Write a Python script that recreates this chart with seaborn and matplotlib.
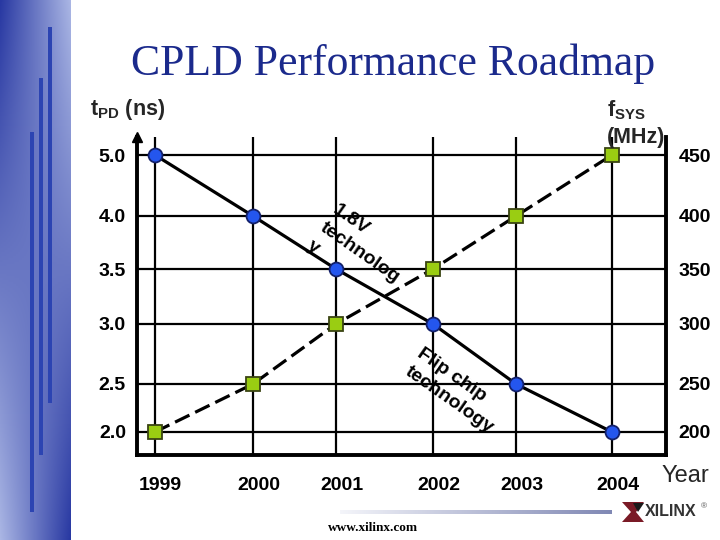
import numpy as np
import pandas as pd
import matplotlib
matplotlib.use("Agg")
import matplotlib.pyplot as plt
import seaborn as sns
from matplotlib.patches import Rectangle, Polygon
from matplotlib.transforms import ScaledTranslation

# ---------------- data ----------------
years = [1999, 2000, 2001, 2002, 2003, 2004]
year_labels = ["1999", "2000", "2001", "2002", "2003", "2004"]
tpd_ns = [5.0, 4.0, 3.5, 3.0, 2.5, 2.0]
fsys_mhz = [200, 250, 300, 350, 400, 450]
tpd_ticks = [2.0, 2.5, 3.0, 3.5, 4.0, 5.0]
tpd_tick_labels = ["2.0", "2.5", "3.0", "3.5", "4.0", "5.0"]
fsys_ticks = [200, 250, 300, 350, 400, 450]
fsys_tick_labels = ["200", "250", "300", "350", "400", "450"]

# ---------------- scale layout (style: where each tick level sits, in px) ----------------
Y_NODE_PX = [23, 71, 131, 186, 239, 300]
X_NODE_PX = [18, 116, 199, 296, 379, 475]
AX_W, AX_H = 529, 318


def piecewise(xs, ys):
    xs = np.asarray(xs, float)
    ys = np.asarray(ys, float)
    s0 = (ys[1] - ys[0]) / (xs[1] - xs[0])
    s1 = (ys[-1] - ys[-2]) / (xs[-1] - xs[-2])

    def f(x):
        x = np.asarray(x, float)
        y = np.interp(x, xs, ys)
        y = np.where(x < xs[0], ys[0] + (x - xs[0]) * s0, y)
        y = np.where(x > xs[-1], ys[-1] + (x - xs[-1]) * s1, y)
        return y
    return f


sns.set_theme(style="white")
plt.rcParams['font.family'] = ['Liberation Sans', 'DejaVu Sans']
plt.rcParams['mathtext.fontset'] = 'custom'
plt.rcParams['mathtext.rm'] = 'Liberation Sans:bold'
plt.rcParams['mathtext.bf'] = 'Liberation Sans:bold'
plt.rcParams['mathtext.it'] = 'Liberation Sans:bold'

W, H = 720, 540
fig = plt.figure(figsize=(7.2, 5.4), dpi=100)
fig.patch.set_facecolor("white")


def px(x, y):
    return (x / W, 1 - y / H)


# ---------------- left decorative band ----------------
band = fig.add_axes([0, 0, 71 / W, 1])
yn = np.linspace(0, 1, 270)[:, None]
xn = np.linspace(0, 1, 71)[None, :]
L = (1 - yn) * xn + yn * (1 - xn)
dark = np.array([0x28, 0x38, 0xa2]) / 255
light = np.array([0xaa, 0xb6, 0xe4]) / 255
img = dark + (light - dark) * L[..., None]
band.imshow(img, extent=(0, 71, 540, 0), aspect='auto')
for (bx, by, bh) in [(30, 132, 380), (39, 78, 377), (48, 27, 376)]:
    band.add_patch(Rectangle((bx, by), 3.8, bh, color="#2c44b2", lw=0))
band.set_xlim(0, 71)
band.set_ylim(540, 0)
band.axis('off')

# ---------------- main chart ----------------
ax = fig.add_axes([137 / W, 85 / H, AX_W / W, AX_H / H])
x_fwd, x_inv = piecewise(years, X_NODE_PX), piecewise(X_NODE_PX, years)
ax.set_xscale('function', functions=(x_fwd, x_inv))
yl_fwd, yl_inv = piecewise(tpd_ticks, Y_NODE_PX), piecewise(Y_NODE_PX, tpd_ticks)
ax.set_yscale('function', functions=(yl_fwd, yl_inv))

ax2 = ax.twinx()
yr_fwd, yr_inv = piecewise(fsys_ticks, Y_NODE_PX), piecewise(Y_NODE_PX, fsys_ticks)
ax2.set_yscale('function', functions=(yr_fwd, yr_inv))

df = pd.DataFrame({"year": years, "tpd": tpd_ns, "fsys": fsys_mhz})
sns.lineplot(data=df, x="year", y="tpd", ax=ax, color="black", lw=2.3,
             marker="o", markersize=10, markerfacecolor="#2456ee",
             markeredgecolor="#13206a", markeredgewidth=1.3, zorder=5)
sns.lineplot(data=df, x="year", y="fsys", ax=ax2, color="black", lw=2.3,
             linestyle=(0, (5, 2)), marker="s", markersize=10,
             markerfacecolor="#9acd12", markeredgecolor="#3a4412",
             markeredgewidth=1.3, zorder=5)
ax.set_xlim(float(x_inv(0)), float(x_inv(AX_W)))
ax.set_ylim(float(yl_inv(0)), float(yl_inv(AX_H)))
ax2.set_ylim(float(yr_inv(0)), float(yr_inv(AX_H)))

for a in (ax, ax2):
    a.set_xlabel("")
    a.set_ylabel("")

ax.set_xticks(years)
ax.set_xticklabels(year_labels, fontsize=14, fontweight="bold")
ax.set_yticks(tpd_ticks)
ax.set_yticklabels(tpd_tick_labels, fontsize=14, fontweight="bold")
ax2.set_yticks(fsys_ticks)
ax2.set_yticklabels(fsys_tick_labels, fontsize=14, fontweight="bold")

ax.tick_params(axis='x', length=0, pad=16, colors="black")
ax.tick_params(axis='y', length=0, pad=8, colors="black")
ax2.tick_params(axis='y', length=0, pad=9, colors="black")

for lbl in ax.get_xticklabels():
    lbl.set_transform(lbl.get_transform() + ScaledTranslation(4 / 72, 0, fig.dpi_scale_trans))

ax.set_axisbelow(True)
ax.grid(True, color="black", lw=1.6)
ax2.grid(False)

for s in ["top", "right"]:
    ax.spines[s].set_visible(False)
for s in ["left", "bottom"]:
    ax.spines[s].set_color("black")
    ax.spines[s].set_linewidth(2.8)
for s in ["top", "left", "bottom"]:
    ax2.spines[s].set_visible(False)
ax2.spines["right"].set_color("black")
ax2.spines["right"].set_linewidth(2.8)
ax.set_facecolor("none")

# arrow head on the left axis
ax.plot([0], [1.0], marker="^", color="black", markersize=7,
        transform=ax.transAxes, clip_on=False)

# rotated annotations
fig.text(*px(339, 201), "1.8V\ntechnolog\ny", ha="left", va="top",
         rotation=-35, rotation_mode="anchor", fontsize=14,
         fontweight="bold", linespacing=1.4, color="black")
fig.text(*px(424, 345), "Flip chip\ntechnology", ha="left", va="top",
         rotation=-35, rotation_mode="anchor", fontsize=14,
         fontweight="bold", linespacing=1.35, color="black")

# axis titles
fig.text(*px(90, 110), r"t$_{\mathrm{PD}}$ (ns)", fontsize=15.5,
         fontweight="bold", va="center", ha="left")
fig.text(*px(607, 110), r"f$_{\mathrm{SYS}}$", fontsize=15.5,
         fontweight="bold", va="center", ha="left")
fig.text(*px(607, 138), "(MHz)", fontsize=15.5, fontweight="bold",
         va="center", ha="left")
fig.text(*px(662, 476), "Year", fontsize=17, va="center", ha="left")

# title
fig.text(*px(393, 75), "CPLD Performance Roadmap", ha="center",
         va="baseline", family=["Liberation Serif", "DejaVu Serif"],
         fontsize=31.5, color="#1b2a8c")

# footer
line_ax = fig.add_axes([340 / W, 1 - 514 / H, 272 / W, 4 / H])
grad = np.linspace(0, 1, 200)[None, :]
c0 = np.array([0xf4, 0xf5, 0xfa]) / 255
c1 = np.array([0x80, 0x88, 0xb4]) / 255
line_ax.imshow(c0 + (c1 - c0) * grad[..., None], aspect='auto')
line_ax.axis('off')

fig.text(*px(373, 528), "www.xilinx.com", ha="center", va="center",
         family=["Liberation Serif", "DejaVu Serif"], fontweight="bold",
         fontsize=9.5, color="black")

sigma = [px(622, 502), px(644, 502), px(636, 512), px(644, 522),
         px(622, 522), px(631, 512)]
fig.patches.append(Polygon(sigma, closed=True, transform=fig.transFigure,
                           facecolor="#7a1a26", edgecolor="none"))
inner = [px(633, 503), px(644, 503), px(638, 512)]
fig.patches.append(Polygon(inner, closed=True, transform=fig.transFigure,
                           facecolor="#1a1a1a", edgecolor="none"))
fig.text(*px(645, 512), "XILINX", ha="left", va="center",
         family=["Liberation Sans"], fontweight="bold", fontsize=11.5,
         color="#333333")
fig.text(*px(701, 507), "®", ha="left", va="center", fontsize=6,
         color="#555555")

fig.savefig("out.png", dpi=100)
